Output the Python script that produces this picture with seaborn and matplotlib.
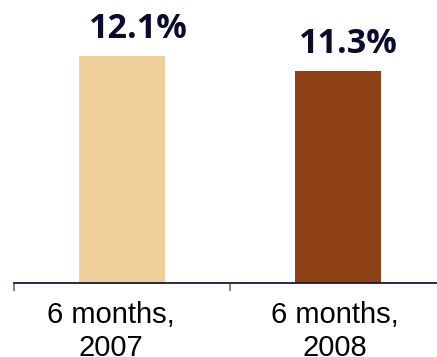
import matplotlib
matplotlib.use("Agg")
import matplotlib.pyplot as plt
import matplotlib.transforms as mtrans
import seaborn as sns
import pandas as pd
from matplotlib.ticker import FixedLocator

categories = ["6 months,\n2007", "6 months,\n2008"]
values = [12.1, 11.3]
value_labels = ["12.1%", "11.3%"]
colors = ["#F0D09A", "#8E4114"]

# small horizontal nudges (pixels) seen in the reference layout
value_label_dx = [16, 10]
tick_label_dx = [-11, -3]

df = pd.DataFrame({"period": categories, "rate": values})

sns.set_style("white")
plt.rcParams["font.family"] = ["Liberation Sans", "DejaVu Sans"]

W, H = 437, 357
fig = plt.figure(figsize=(W / 100, H / 100), dpi=100)
ax = fig.add_axes([14 / W, (H - 283) / H, (446 - 14) / W, 282 / H])

sns.barplot(data=df, x="period", y="rate", hue="period", palette=colors,
            width=0.4, legend=False, ax=ax, saturation=1, linewidth=0)

ax.set_xlim(-0.5, 1.5)
ax.set_ylim(0, 15)
ax.set_xlabel("")
ax.set_ylabel("")
ax.set_yticks([])
for s in ["top", "right", "left"]:
    ax.spines[s].set_visible(False)
ax.spines["bottom"].set_color("#1A1A3A")
ax.spines["bottom"].set_linewidth(1.3)

ax.tick_params(axis="x", which="major", length=0, pad=13, labelsize=21,
               labelcolor="black")
ax.xaxis.set_minor_locator(FixedLocator([-0.5, 0.5, 1.5]))
ax.tick_params(axis="x", which="minor", length=6, width=1.3, color="#7A7A8E",
               direction="out", bottom=True)
for t, dx in zip(ax.get_xticklabels(), tick_label_dx):
    t.set_linespacing(1.22)
    t.set_transform(t.get_transform() +
                    mtrans.ScaledTranslation(dx / 100, 0, fig.dpi_scale_trans))

for i, (v, lab, dx) in enumerate(zip(values, value_labels, value_label_dx)):
    ax.annotate(lab, xy=(i, v), xytext=(dx * 0.72, 12.5),
                textcoords="offset points",
                ha="center", va="baseline", fontsize=24.5, fontweight="bold",
                color="#0B0B2E", family=["Open Sans", "DejaVu Sans"])

fig.savefig("out.png", dpi=100)
